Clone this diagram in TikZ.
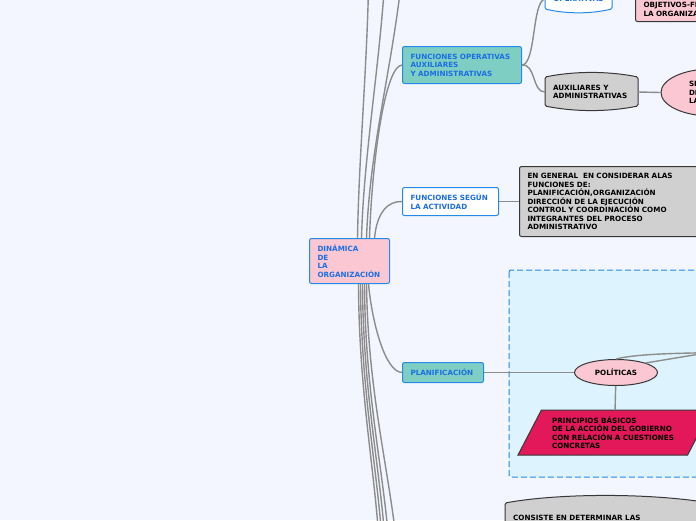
\documentclass[tikz,border=0pt]{standalone}
\usepackage{fontspec}
\setmainfont{DejaVu Sans}
\usepackage{tikz}
\usetikzlibrary{positioning,shapes.geometric}
\definecolor{mapback}{RGB}{243,246,254}
\definecolor{mapblue}{RGB}{36,138,232}
\definecolor{maptext}{RGB}{28,110,226}
\definecolor{mapteal}{RGB}{126,206,196}
\definecolor{mappink}{RGB}{250,199,210}
\definecolor{mapgray}{RGB}{208,208,208}
\definecolor{mapcrimson}{RGB}{226,24,90}
\definecolor{mapzone}{RGB}{221,244,254}
\definecolor{mapline}{RGB}{140,140,140}
\definecolor{mapedge}{RGB}{55,55,55}

\begin{document}
\begin{tikzpicture}[x=1pt, y=-1pt,
  every node/.style={font=\bfseries\fontsize{7.2}{8.5}\selectfont, align=left},
  topic/.style={draw=mapblue, line width=1pt, rounded corners=2pt, text=maptext,
                anchor=north west, inner xsep=8pt, inner ysep=0pt},
  note/.style={draw=mapedge, line width=1pt, rounded corners=2pt, text=black,
               inner xsep=8pt},
  oval/.style={ellipse, draw=mapedge, line width=1pt, fill=mappink, inner sep=0pt},
  tapebox/.style={draw=mapedge, fill=mapgray, line width=1pt, rounded corners=1.5pt},
  link/.style={draw=mapline, line width=1.4pt}]

\useasboundingbox (0,0) rectangle (696,520);
\clip (0,0) rectangle (696,520);
\fill[mapback] (0,0) rectangle (696,520);
\draw[draw=mapblue, fill=mapzone, line width=1pt, dash pattern=on 6pt off 3pt,
      rounded corners=2pt] (509,270) rectangle (730,477);

\draw[draw=mapblue, fill=white, line width=1pt, rounded corners=1.5pt]
  (545,-20) -- (545,9) .. controls (567,14) and (590,14) .. (612,9) -- (612,-20);
\draw[tapebox] (545,77) .. controls (575,71) and (608,71) .. (638,77) -- (638,106)
  .. controls (608,112) and (575,112) .. (545,106) -- cycle;
\draw[tapebox] (505,560) -- (505,503) .. controls (560,493) and (650,493) .. (710,503)
  -- (710,560);

\node[topic, fill=mappink, text width=64pt, minimum height=45pt] (root) at (309,238)
  {DINÁMICA\\DE\\LA\\ORGANIZACIÓN};
\node[topic, fill=mapteal, text width=103pt, minimum height=37pt] (fop) at (402,46)
  {FUNCIONES OPERATIVAS\\AUXILIARES\\Y ADMINISTRATIVAS};
\node[topic, fill=white, text width=80pt, minimum height=28pt] (fsa) at (402,187)
  {FUNCIONES SEGÚN\\LA ACTIVIDAD};
\node[topic, fill=mapteal, text width=65pt, minimum height=20pt] (plan) at (402,362)
  {PLANIFICACIÓN};

\node[text=maptext, anchor=base, minimum width=67pt, inner sep=0pt] (ope) at (578.5,1.6)
  {OPERATIVAS};
\node[note, fill=mappink, anchor=south west, text width=90pt, inner ysep=5pt] (obj)
  at (635,22) {OBJETIVOS-FINES DE\\LA ORGANIZACIÓN};
\node[minimum width=93pt, text width=77pt, inner xsep=8pt] (aux) at (591.5,92)
  {AUXILIARES Y\\ADMINISTRATIVAS};
\node[oval, minimum width=100pt, minimum height=47pt, text width=44pt] (sit)
  at (711,92.5) {SI\\DI\\LA};

\node[note, fill=mapgray, right=20pt of fsa, text width=200pt, minimum height=70pt]
  (egen) {EN GENERAL \ EN CONSIDERAR ALAS\\FUNCIONES DE:\\PLANIFICACIÓN,ORGANIZACIÓN\\
  DIRECCIÓN DE LA EJECUCIÓN\\CONTROL Y COORDINACIÓN COMO\\INTEGRANTES DEL PROCESO\\
  ADMINISTRATIVO};

\node[oval, minimum width=83pt, minimum height=26pt, right=90pt of plan] (pol)
  {POLÍTICAS};
\node[trapezium, trapezium left angle=59, trapezium right angle=121,
      trapezium stretches body, fill=mapcrimson, draw=mapedge, line width=1pt,
      minimum width=193pt, minimum height=45pt, text width=125pt] (prin)
  at (614.5,432.5)
  {PRINCIPIOS BÁSICOS\\DE LA ACCIÓN DEL GOBIERNO\\CON RELACIÓN A CUESTIONES\\CONCRETAS};

\node[anchor=base west, inner xsep=8pt] (cns) at (505,520) {CONSISTE EN DETERMINAR LAS};

\coordinate (up1) at (369,-40);
\coordinate (up2) at (386,-40);
\coordinate (up3) at (404,-45);
\coordinate (dn1) at (380,560);
\coordinate (dn2) at (383,560);
\coordinate (dn3) at (386,560);
\coordinate (dn4) at (390,560);
\coordinate (dn5) at (398,560);
\coordinate (polA) at (730,352.5);
\coordinate (polB) at (730,349);

\draw[link] ([xshift=8pt]root.north) .. controls (359,150) and (368,60) .. (up1);
\draw[link] ([xshift=12pt]root.north) .. controls (364,150) and (381,60) .. (up2);
\draw[link] ([xshift=17pt]root.north) .. controls (370,140) and (395,60) .. (up3);
\draw[link] ([xshift=20pt]root.north) .. controls (372,160) and (385,66) .. (fop.west);
\draw[link] ([xshift=25pt]root.north) .. controls (377,212) and (388,201) .. (fsa.west);

\draw[link] ([xshift=9pt]root.south) .. controls (359,400) and (377,480) .. (dn1);
\draw[link] ([xshift=11pt]root.south) .. controls (361,400) and (380,480) .. (dn2);
\draw[link] ([xshift=13pt]root.south) .. controls (363,400) and (383,480) .. (dn3);
\draw[link] ([xshift=15pt]root.south) .. controls (365,400) and (386,480) .. (dn4);
\draw[link] ([xshift=17pt]root.south) .. controls (368,400) and (392,480) .. (dn5);
\draw[link] ([xshift=19pt]root.south) .. controls (372,322) and (385,372) .. (plan.west);

\draw[link] (fop.east) .. controls (536,64) and (532,2) .. (ope.west);
\draw[link] (fop.east) .. controls (536,64) and (532,92) .. (aux.west);
\draw[link] (ope.east) -- (ope.east -| obj.west);
\draw[link] (aux.east) -- (sit.west);
\draw[link] (fsa.east) -- (egen.west);
\draw[link] (plan.east) -- (pol.west);
\draw[link] (pol) -- (prin);
\draw[link] (pol.north) .. controls (632,355) and (660,353) .. (polA);
\draw[link] (pol.north east) -- (polB);
\end{tikzpicture}
\end{document}
